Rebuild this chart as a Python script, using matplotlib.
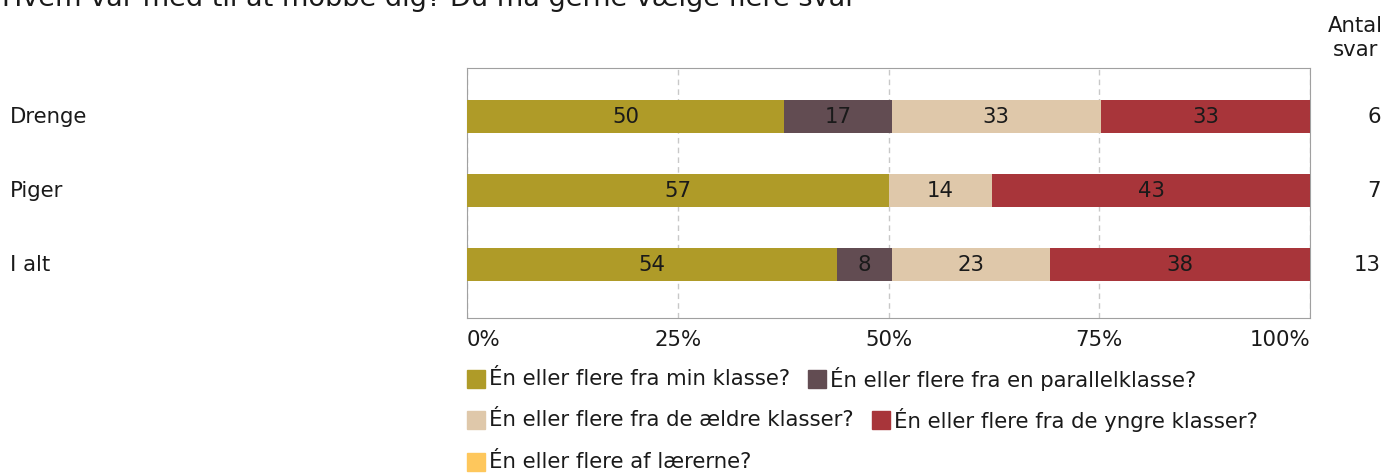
import numpy as np
import matplotlib
matplotlib.use("Agg")
import matplotlib.pyplot as plt
from matplotlib.patches import Rectangle

# data
groups = ["Drenge", "Piger", "I alt"]
series = [
    "Én eller flere fra min klasse?",
    "Én eller flere fra en parallelklasse?",
    "Én eller flere fra de ældre klasser?",
    "Én eller flere fra de yngre klasser?",
    "Én eller flere af lærerne?",
]
min_klasse = [50, 57, 54]
parallel = [17, 0, 8]
aeldre = [33, 14, 23]
yngre = [33, 43, 38]
laererne = [0, 0, 0]
antal = [6, 7, 13]
colors = ["#AF9B28", "#624C52", "#DFC8AA", "#A8353A", "#FEC75C"]
title = "Hvem var med til at mobbe dig? Du må gerne vælge flere svar"

plt.rcParams['font.family'] = ['DejaVu Sans']
FS = 15.3
W, H = 1386, 473
fig = plt.figure(figsize=(W / 100, H / 100), dpi=100)
ax = fig.add_axes([467 / W, 1 - 318 / H, (1310 - 467) / W, (318 - 68) / H])

vals = np.array([min_klasse, parallel, aeldre, yngre, laererne], dtype=float)
totals = vals.sum(axis=0)
shares = vals / totals * 100
y = np.arange(len(groups))
left = np.zeros(len(groups))
for i in range(len(series)):
    ax.barh(y, shares[i], left=left, height=0.45, color=colors[i], zorder=3)
    for j in range(len(groups)):
        if vals[i, j] > 0:
            ax.text(left[j] + shares[i, j] / 2, y[j], f"{int(vals[i, j])}",
                    ha="center", va="center", fontsize=FS, color="#1a1a1a", zorder=4)
    left += shares[i]

ax.set_xlim(0, 100)
ax.set_ylim(2.72, -0.66)
ax.set_yticks([])
ax.set_xticks([0, 25, 50, 75, 100])
ax.set_xticklabels([])
ax.tick_params(length=0)
ax.grid(axis="x", color="#C8C8C8", linestyle=(0, (4, 3)), linewidth=1, zorder=0)
for s in ax.spines.values():
    s.set_color("#A0A0A0")

# tick labels
for t in [0, 25, 50, 75, 100]:
    ha = "left" if t == 0 else ("right" if t == 100 else "center")
    ax.text(t, 2.72 + 0.30, f"{t}%", ha=ha, va="center", fontsize=FS,
            color="#1a1a1a", transform=ax.transData, clip_on=False)

# left labels and right counts
for j, g in enumerate(groups):
    yf = 1 - (117 + 74 * j) / H
    fig.text(10 / W, yf, g, ha="left", va="center", fontsize=FS, color="#1a1a1a")
    fig.text(1381 / W, yf, str(antal[j]), ha="right", va="center", fontsize=FS, color="#1a1a1a")
fig.text(1355 / W, 1 - 38 / H, "Antal\nsvar", ha="center", va="center",
         fontsize=FS, color="#1a1a1a", linespacing=1.2)

# title (partly cut off at top, as in the source)
fig.text(2 / W, 1 - 6 / H, title, ha="left", va="baseline", fontsize=19.5, color="#1a1a1a")

# legend, flow layout
rows = [[0, 1], [2, 3], [4]]
row_y = [379, 420, 462]
fig.canvas.draw()
r = fig.canvas.get_renderer()
for row, py in zip(rows, row_y):
    x = 467
    for i in row:
        fig.add_artist(Rectangle((x / W, 1 - (py + 9) / H), 18 / W, 18 / H,
                                 transform=fig.transFigure, color=colors[i]))
        t = fig.text((x + 22) / W, 1 - py / H, series[i], ha="left", va="center",
                     fontsize=FS, color="#1a1a1a")
        bb = t.get_window_extent(renderer=r)
        x = x + 22 + bb.width + 18

fig.savefig("out.png", dpi=100)
